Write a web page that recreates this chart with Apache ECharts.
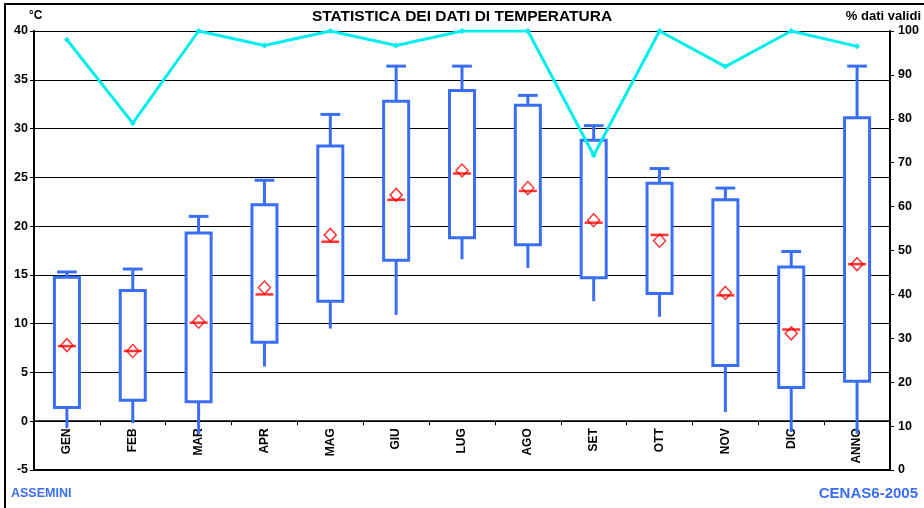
<!DOCTYPE html>
<html>
<head>
<meta charset="utf-8">
<script src="https://cdn.jsdelivr.net/npm/echarts@6/dist/echarts.min.js"></script>
<style>
  html, body { margin: 0; padding: 0; background: #fff; }
  #chart { width: 924px; height: 508px; }
</style>
</head>
<body>
<div id="chart"></div>
<script>
const categories = ["GEN", "FEB", "MAR", "APR", "MAG", "GIU", "LUG", "AGO", "SET", "OTT", "NOV", "DIC", "ANNO"];
// whisker ends and box edges (°C)
const whiskerLow = [-0.7, -0.2, -1.3, 5.6, 9.5, 10.9, 16.6, 15.7, 12.3, 10.7, 0.95, -1.1, -1.3];
const boxLow = [1.4, 2.15, 2.0, 8.1, 12.3, 16.5, 18.8, 18.1, 14.7, 13.1, 5.7, 3.45, 4.1];
const boxHigh = [14.75, 13.4, 19.3, 22.2, 28.2, 32.8, 33.9, 32.4, 28.8, 24.4, 22.7, 15.8, 31.1];
const whiskerHigh = [15.3, 15.6, 21.0, 24.7, 31.45, 36.4, 36.4, 33.4, 30.3, 25.9, 23.9, 17.4, 36.4];
const median = [7.7, 7.2, 10.1, 13.0, 18.4, 22.7, 25.4, 23.6, 20.35, 19.1, 12.9, 9.4, 16.1];
const mean = [7.8, 7.2, 10.2, 13.7, 19.1, 23.2, 25.7, 23.9, 20.6, 18.5, 13.15, 9.0, 16.1];
// % dati validi (right axis)
const validPct = [98, 79, 100, 96.7, 100, 96.7, 100, 100, 71.7, 100, 91.9, 100, 96.5];

const BLUE = "#3a6ef6";
const RED = "#ff0000";
const CYAN = "#00eeee";
const FONT = "Liberation Sans";

const GRID_TOP = 31;
const GRID_BOTTOM = 38;
const PLOT_H = 508 - GRID_TOP - GRID_BOTTOM;
const Y_MIN = -5, Y_MAX = 40;
// shift the category axis up from the plot bottom to the 0 °C line
const zeroOffset = -PLOT_H * (0 - Y_MIN) / (Y_MAX - Y_MIN);

const boxData = categories.map((c, i) => [i, whiskerLow[i], boxLow[i], boxHigh[i], whiskerHigh[i]]);

function renderBox(params, api) {
  const x = api.value(0);
  const lo = api.coord([x, api.value(1)]);
  const q1 = api.coord([x, api.value(2)]);
  const q3 = api.coord([x, api.value(3)]);
  const hi = api.coord([x, api.value(4)]);
  const band = api.size([1, 0])[0];
  const halfW = band * 0.19;
  const capHalf = band * 0.15;
  const style = { stroke: BLUE, lineWidth: 3 };
  return {
    type: "group",
    children: [
      { type: "line", shape: { x1: lo[0], y1: lo[1], x2: q1[0], y2: q1[1] }, style: style },
      { type: "line", shape: { x1: q3[0], y1: q3[1], x2: hi[0], y2: hi[1] }, style: style },
      { type: "line", shape: { x1: hi[0] - capHalf, y1: hi[1], x2: hi[0] + capHalf, y2: hi[1] }, style: style },
      {
        type: "rect",
        shape: { x: q1[0] - halfW, y: q3[1], width: halfW * 2, height: q1[1] - q3[1] },
        style: { fill: "#fff", stroke: BLUE, lineWidth: 3 },
      },
    ],
  };
}

const chart = echarts.init(document.getElementById("chart"));

chart.setOption({
  animation: false,
  backgroundColor: "#fff",
  textStyle: { fontFamily: FONT },
  graphic: [
    {
      type: "rect",
      shape: { x: 5, y: 4, width: 940, height: 530 },
      style: { fill: "none", stroke: "#000", lineWidth: 2 },
      silent: true,
    },
    {
      type: "text", left: "center", top: 9,
      style: { text: "STATISTICA DEI DATI DI TEMPERATURA", font: "bold 15.5px " + FONT, fill: "#000" },
    },
    {
      type: "text", left: 29, top: 10,
      style: { text: "°C", font: "bold 12px " + FONT, fill: "#000" },
    },
    {
      type: "text", right: 3, top: 10,
      style: { text: "% dati validi", font: "bold 13px " + FONT, fill: "#000" },
    },
    {
      type: "text", left: 11, top: 487,
      style: { text: "ASSEMINI", font: "bold 12.5px " + FONT, fill: BLUE },
    },
    {
      type: "text", right: 6, top: 486,
      style: { text: "CENAS6-2005", font: "bold 15px " + FONT, fill: BLUE },
    },
  ],
  grid: { left: 34, right: 34, top: GRID_TOP, bottom: GRID_BOTTOM, outerBoundsMode: "none", containLabel: false },
  xAxis: [
    {
      type: "category",
      data: categories,
      position: "bottom",
      offset: zeroOffset,
      axisLine: { onZero: false, lineStyle: { color: "#000", width: 1.5 } },
      axisTick: { show: true, length: 4, lineStyle: { color: "#000" } },
      axisLabel: {
        interval: 0, rotate: 90, margin: 7,
        color: "#000", fontWeight: "bold", fontSize: 12, fontFamily: FONT,
      },
      splitLine: { show: false },
    },
    {
      type: "category",
      data: categories,
      position: "bottom",
      axisLine: { onZero: false, lineStyle: { color: "#000", width: 2 } },
      axisTick: { show: false },
      axisLabel: { show: false },
    },
  ],
  yAxis: [
    {
      type: "value",
      min: Y_MIN, max: Y_MAX, interval: 5,
      axisLine: { show: true, lineStyle: { color: "#000", width: 2 } },
      axisTick: { show: true, length: 4, lineStyle: { color: "#000" } },
      axisLabel: { color: "#000", fontWeight: "bold", fontSize: 12.5, fontFamily: FONT, margin: 6 },
      splitLine: { show: true, lineStyle: { color: "#000", width: 1 } },
    },
    {
      type: "value",
      position: "right",
      min: 0, max: 100, interval: 10,
      axisLine: { show: true, lineStyle: { color: "#000", width: 2 } },
      axisTick: { show: true, length: 4, lineStyle: { color: "#000" } },
      axisLabel: { color: "#000", fontWeight: "bold", fontSize: 12.5, fontFamily: FONT, margin: 8 },
      splitLine: { show: false },
    },
  ],
  series: [
    {
      name: "box",
      type: "custom",
      renderItem: renderBox,
      data: boxData,
      encode: { x: 0, y: [1, 2, 3, 4] },
      z: 2,
    },
    {
      name: "mediana",
      type: "scatter",
      data: median,
      symbol: "rect",
      symbolSize: [18, 2.5],
      itemStyle: { color: RED },
      z: 3,
    },
    {
      name: "media",
      type: "scatter",
      data: mean,
      symbol: "diamond",
      symbolSize: [12, 13],
      itemStyle: { color: "transparent", borderColor: RED, borderWidth: 1.5 },
      z: 4,
    },
    {
      name: "% dati validi",
      type: "line",
      yAxisIndex: 1,
      data: validPct,
      symbol: "diamond",
      symbolSize: 6,
      showSymbol: true,
      lineStyle: { color: CYAN, width: 3 },
      itemStyle: { color: CYAN },
      z: 5,
    },
  ],
});
</script>
</body>
</html>
